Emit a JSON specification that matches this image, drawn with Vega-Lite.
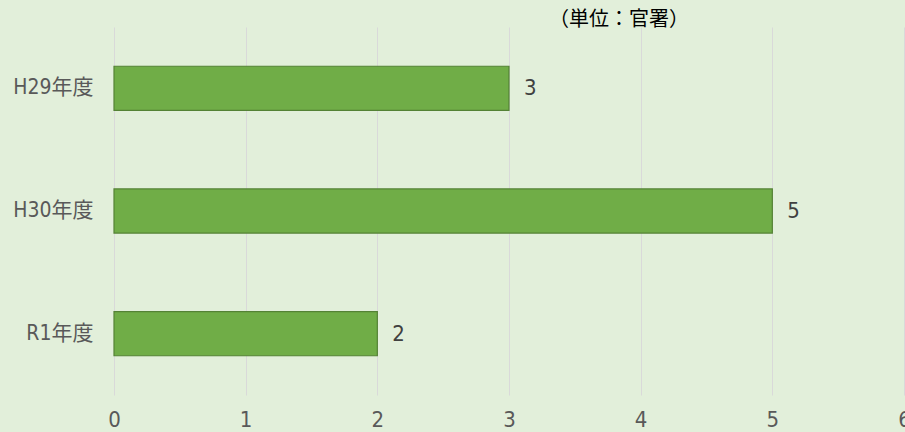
{
  "$schema": "https://vega.github.io/schema/vega-lite/v6.json",
  "autosize": {"type": "none"},
  "width": 790,
  "height": 368,
  "padding": {"left": 114, "top": 27, "right": 1, "bottom": 37},
  "background": "#e2efda",
  "title": {
    "text": "（単位：官署）",
    "anchor": "middle",
    "dx": 110,
    "offset": -23,
    "baseline": "bottom",
    "font": "Noto Sans CJK JP",
    "fontSize": 20,
    "fontWeight": "normal",
    "color": "#000000"
  },
  "config": {
    "view": {"stroke": null},
    "font": "DejaVu Sans Condensed, Noto Sans CJK JP"
  },
  "data": {
    "values": [
      {"year": "H29年度", "count": 3},
      {"year": "H30年度", "count": 5},
      {"year": "R1年度", "count": 2}
    ]
  },
  "encoding": {
    "y": {
      "field": "year",
      "type": "nominal",
      "sort": null,
      "scale": {"paddingInner": 0.64, "paddingOuter": 0.32},
      "axis": {
        "title": null,
        "domain": false,
        "ticks": false,
        "labelPadding": 21,
        "labelFontSize": 21,
        "labelColor": "#595959",
        "labelFont": "DejaVu Sans Condensed, Noto Sans CJK JP"
      }
    },
    "x": {
      "field": "count",
      "type": "quantitative",
      "scale": {"domain": [0, 6], "nice": false},
      "axis": {
        "title": null,
        "domain": false,
        "ticks": false,
        "values": [0, 1, 2, 3, 4, 5, 6],
        "grid": true,
        "gridColor": "#d9d9d9",
        "gridWidth": 1,
        "labelPadding": 14,
        "labelFontSize": 22,
        "labelColor": "#595959",
        "labelFont": "DejaVu Sans Condensed, Noto Sans CJK JP",
        "labelFlush": false
      }
    }
  },
  "layer": [
    {
      "mark": {"type": "bar", "color": "#70ad47", "stroke": "#548235", "strokeWidth": 1.2}
    },
    {
      "mark": {"type": "text", "align": "left", "dx": 15, "fontSize": 22, "color": "#404040", "font": "DejaVu Sans Condensed"},
      "encoding": {"text": {"field": "count", "type": "quantitative"}}
    }
  ]
}
